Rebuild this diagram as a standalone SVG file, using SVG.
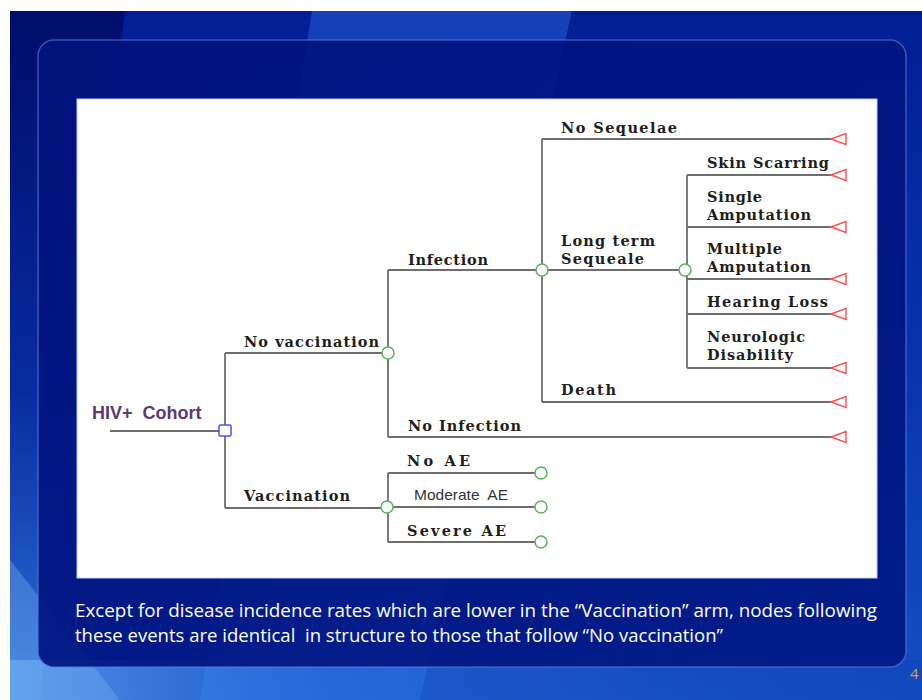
<svg xmlns="http://www.w3.org/2000/svg" width="922" height="700" viewBox="0 0 922 700">
  <defs>
    <linearGradient id="bgv" x1="0" y1="0" x2="0" y2="1">
      <stop offset="0" stop-color="#02168a"/>
      <stop offset="0.55" stop-color="#0a38b4"/>
      <stop offset="1" stop-color="#1c5cd0"/>
    </linearGradient>
    <linearGradient id="bottomH" x1="0" y1="0" x2="1" y2="0">
      <stop offset="0" stop-color="#5a9eec" stop-opacity="0.9"/>
      <stop offset="0.35" stop-color="#2a6ad8" stop-opacity="0.5"/>
      <stop offset="1" stop-color="#0a3cb4" stop-opacity="0.3"/>
    </linearGradient>
    <linearGradient id="leftV" x1="0" y1="0" x2="0" y2="1">
      <stop offset="0" stop-color="#000c66" stop-opacity="0.9"/>
      <stop offset="0.55" stop-color="#05208c" stop-opacity="0.5"/>
      <stop offset="1" stop-color="#3f86e4" stop-opacity="0.6"/>
    </linearGradient>
    <linearGradient id="panelG" x1="0" y1="0" x2="1" y2="1">
      <stop offset="0" stop-color="#00127c"/>
      <stop offset="1" stop-color="#001886"/>
    </linearGradient>
    <style>
      .ln { stroke: #6e6e6e; stroke-width: 1.8; fill: none; }
      .chance { fill: #ffffff; stroke: #58b45a; stroke-width: 1.5; }
      .decision { fill: #ffffff; stroke: #4a4cff; stroke-width: 1.5; }
      .term { fill: #ffffff; stroke: #ff4d4d; stroke-width: 1.4; }
      .lbl { font-family: "DejaVu Serif", "Liberation Serif", serif; font-weight: bold; font-size: 14.5px; fill: #1e1e1e; }
      .sans { font-family: "Liberation Sans", Arial, sans-serif; }
      .cap { font-family: "Open Sans", "Liberation Sans", sans-serif; font-size: 18px; fill: #ffffff; }
    </style>
  </defs>

  <!-- slide background -->
  <rect x="0" y="0" width="922" height="700" fill="#ffffff"/>
  <rect x="10" y="11" width="912" height="689" fill="url(#bgv)"/>
  <polygon points="10,11 125,11 40,700 10,700" fill="url(#leftV)"/>
  <polygon points="125,11 312,11 200,700 40,700" fill="#0a2ca8" opacity="0.35"/>
  <polygon points="312,11 572,11 420,700 200,700" fill="#2a74f0" opacity="0.45"/>
  <polygon points="572,11 922,11 922,700 420,700" fill="#0332a8" opacity="0.3"/>
  <rect x="10" y="660" width="912" height="40" fill="url(#bottomH)"/>
  <polygon points="10,560 10,700 120,700" fill="#7ab4f4" opacity="0.35"/>

  <!-- panel -->
  <rect x="38" y="40" width="868" height="627" rx="16" ry="16" fill="url(#panelG)" fill-opacity="0.92" stroke="#5f7fd8" stroke-opacity="0.6" stroke-width="1.5"/>

  <!-- white diagram area -->
  <rect x="77" y="99" width="800" height="479" fill="#ffffff" stroke="#c4cdf0" stroke-width="1"/>

  <!-- connectors -->
  <g id="connectors">
    <path class="ln" d="M110,431 H219"/>
    <path class="ln" d="M225,353 V508"/>
    <path class="ln" d="M225,353 H382"/>
    <path class="ln" d="M225,508 H382"/>
    <path class="ln" d="M388,270 V437"/>
    <path class="ln" d="M388,270 H537"/>
    <path class="ln" d="M388,437 H831"/>
    <path class="ln" d="M542,139 V402"/>
    <path class="ln" d="M542,139 H831"/>
    <path class="ln" d="M542,270 H680"/>
    <path class="ln" d="M542,402 H831"/>
    <path class="ln" d="M687,175 V368"/>
    <path class="ln" d="M687,175 H831"/>
    <path class="ln" d="M687,227 H831"/>
    <path class="ln" d="M687,279 H831"/>
    <path class="ln" d="M687,314 H831"/>
    <path class="ln" d="M687,368 H831"/>
    <path class="ln" d="M388,473 V542"/>
    <path class="ln" d="M388,473 H536"/>
    <path class="ln" d="M388,507 H536"/>
    <path class="ln" d="M388,542 H536"/>

    <text class="lbl" x="244" y="347" textLength="135">No vaccination</text>
    <text class="lbl" x="244" y="501" textLength="106">Vaccination</text>
    <text class="lbl" x="408" y="265" textLength="80">Infection</text>
    <text class="lbl" x="408" y="431" textLength="113">No Infection</text>
    <text class="lbl" x="561" y="133" textLength="116">No Sequelae</text>
    <text class="lbl" x="561" y="246" textLength="94">Long term</text>
    <text class="lbl" x="561" y="264" textLength="83">Sequeale</text>
    <text class="lbl" x="561" y="395" textLength="55">Death</text>
    <text class="lbl" x="707" y="168" textLength="122">Skin Scarring</text>
    <text class="lbl" x="707" y="202" textLength="55">Single</text>
    <text class="lbl" x="707" y="220" textLength="104">Amputation</text>
    <text class="lbl" x="707" y="254" textLength="75">Multiple</text>
    <text class="lbl" x="707" y="272" textLength="104">Amputation</text>
    <text class="lbl" x="707" y="307" textLength="121">Hearing Loss</text>
    <text class="lbl" x="707" y="342" textLength="98">Neurologic</text>
    <text class="lbl" x="707" y="360" textLength="86">Disability</text>
    <text class="lbl" x="407" y="466" textLength="63">No AE</text>
    <text class="sans" x="414" y="500" font-size="15" fill="#333333" textLength="94" lengthAdjust="spacingAndGlyphs" xml:space="preserve">Moderate  AE</text>
    <text class="lbl" x="407" y="536" textLength="99">Severe AE</text>
  </g>

  <g id="root">
    <text class="sans" x="92" y="419" font-size="18" font-weight="bold" fill="#5b3a74" xml:space="preserve">HIV+  Cohort</text>
  </g>
  <g id="node-decision">
    <rect class="decision" x="219" y="425" width="12" height="11" rx="1.5"/>
  </g>

  <g id="node-no-vaccination"><circle class="chance" cx="388" cy="353" r="6"/></g>
  <g id="node-vaccination"><circle class="chance" cx="387" cy="507" r="6"/></g>
  <g id="node-infection"><circle class="chance" cx="542" cy="270" r="6"/></g>
  <g id="node-long-term"><circle class="chance" cx="685" cy="270" r="6"/></g>
  <g id="node-no-ae"><circle class="chance" cx="541" cy="473" r="6"/></g>
  <g id="node-moderate-ae"><circle class="chance" cx="541" cy="507" r="6"/></g>
  <g id="node-severe-ae"><circle class="chance" cx="541" cy="542" r="6"/></g>

  <g id="term-no-sequelae"><polygon class="term" points="831,139 846,133.5 846,144.5"/></g>
  <g id="term-skin-scarring"><polygon class="term" points="831,175 846,169.5 846,180.5"/></g>
  <g id="term-single-amputation"><polygon class="term" points="831,227 846,221.5 846,232.5"/></g>
  <g id="term-multiple-amputation"><polygon class="term" points="831,279 846,273.5 846,284.5"/></g>
  <g id="term-hearing-loss"><polygon class="term" points="831,314 846,308.5 846,319.5"/></g>
  <g id="term-neurologic"><polygon class="term" points="831,368 846,362.5 846,373.5"/></g>
  <g id="term-death"><polygon class="term" points="831,402 846,396.5 846,407.5"/></g>
  <g id="term-no-infection"><polygon class="term" points="831,437 846,431.5 846,442.5"/></g>

  <text class="cap" x="75" y="617" textLength="802" lengthAdjust="spacingAndGlyphs">Except for disease incidence rates which are lower in the “Vaccination” arm, nodes following</text>
  <text class="cap" x="75" y="642" textLength="648" lengthAdjust="spacingAndGlyphs" xml:space="preserve">these events are identical  in structure to those that follow “No vaccination”</text>

  <text x="910" y="679" font-family="Open Sans, Liberation Sans, sans-serif" font-size="15" fill="#d9a520">4</text>
</svg>
